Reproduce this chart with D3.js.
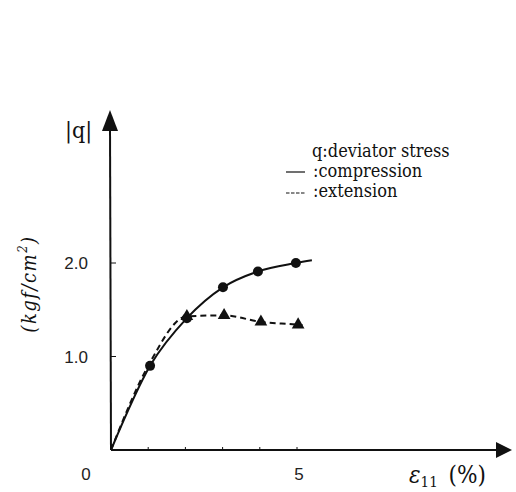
<!DOCTYPE html>
<html><head><meta charset="utf-8">
<script src="https://cdn.jsdelivr.net/npm/d3@7"></script>
<style>body{margin:0;background:#fff}</style>
</head><body>
<svg id="c" width="516" height="492"></svg>
<script>
// Data (strain %, |q| kgf/cm2)
const compStrain = [0, 1.05, 2.04, 3.01, 3.95, 4.97, 5.4];
const compQ      = [0, 0.90, 1.41, 1.74, 1.91, 2.00, 2.03];
const compMarkerIdx = [1, 2, 3, 4, 5];
const extStrain = [0, 1.0, 2.04, 3.04, 4.03, 5.03, 5.15];
const extQ      = [0, 0.90, 1.43, 1.44, 1.37, 1.34, 1.335];
const extMarkerIdx = [2, 3, 4, 5];
const xTicks = [1, 2, 3, 4, 5];
const xTickLabels = [{v: 0, t: "0"}, {v: 5, t: "5"}];
const yTicks = [1.0, 2.0];
const yTickLabels = ["1.0", "2.0"];

const svg = d3.select("#c");
const x = d3.scaleLinear().domain([0, 5]).range([111, 297]);
const y = d3.scaleLinear().domain([0, 2]).range([450, 263]);
const ink = "#111";

// axes
const x0 = x(0), y0 = y(0);
svg.append("line").attr("x1", x0).attr("y1", y0).attr("x2", 500).attr("y2", y0)
  .attr("stroke", ink).attr("stroke-width", 2);
svg.append("path").attr("d", `M512,${y0} L496,${y0-8} L496,${y0+8} Z`).attr("fill", ink);
svg.append("line").attr("x1", x0).attr("y1", y0).attr("x2", x0-1).attr("y2", 125)
  .attr("stroke", ink).attr("stroke-width", 2);
svg.append("path").attr("d", `M${x0-1},110 L${x0-9},131 L${x0+7},131 Z`).attr("fill", ink);

// ticks
svg.selectAll(".xt").data(xTicks).join("line")
  .attr("x1", d => x(d)).attr("x2", d => x(d)).attr("y1", y0).attr("y2", y0 - 3)
  .attr("stroke", ink).attr("stroke-width", 1);
svg.selectAll(".yt").data(yTicks).join("line")
  .attr("x1", x0).attr("x2", x0 + 5).attr("y1", d => y(d)).attr("y2", d => y(d))
  .attr("stroke", ink).attr("stroke-width", 1);

const sans = '"Liberation Sans", Arial, sans-serif';
const serif = '"DejaVu Serif Condensed", "Liberation Serif", serif';
svg.selectAll(".xl").data(xTickLabels).join("text")
  .attr("x", d => d.v === 0 ? 86 : x(d.v) + 2).attr("y", 480)
  .attr("text-anchor", "middle").style("font-family", sans).style("font-size", "17px")
  .attr("fill", "#222").text(d => d.t);
svg.selectAll(".yl").data(yTicks).join("text")
  .attr("x", 88).attr("y", d => y(d) + 6)
  .attr("text-anchor", "end").style("font-family", sans).style("font-size", "17px")
  .attr("fill", "#222").text((d, i) => yTickLabels[i]);

// axis titles
svg.append("text").attr("x", 65).attr("y", 138).style("font-family", serif)
  .style("font-size", "23px").attr("fill", ink).text("|q|");
const yl = svg.append("text").attr("transform", "translate(36,284) rotate(-90)")
  .attr("text-anchor", "middle").style("font-family", serif).style("font-style", "italic")
  .style("font-size", "20px").style("letter-spacing", "1.5px").attr("fill", ink);
yl.append("tspan").text("(kgf/cm");
yl.append("tspan").style("font-size", "13px").attr("dy", -9).text("2");
yl.append("tspan").attr("dy", 9).text(")");
const xl = svg.append("text").attr("x", 409).attr("y", 483).style("font-family", serif)
  .style("font-size", "24px").attr("fill", ink);
xl.append("tspan").style("font-style", "italic").text("ε");
xl.append("tspan").style("font-size", "15px").attr("dy", 4).text("11");
xl.append("tspan").attr("dy", -4).attr("dx", 4).text(" (%)");

// curves
const line = d3.line().x(d => x(d[0])).y(d => y(d[1])).curve(d3.curveMonotoneX);
const comp = compStrain.map((s, i) => [s, compQ[i]]);
const ext = extStrain.map((s, i) => [s, extQ[i]]);
svg.append("path").attr("d", line(ext)).attr("fill", "none").attr("stroke", ink)
  .attr("stroke-width", 2).attr("stroke-dasharray", "6,4");
svg.append("path").attr("d", line(comp)).attr("fill", "none").attr("stroke", ink)
  .attr("stroke-width", 2);

svg.selectAll(".cm").data(compMarkerIdx.map(i => comp[i])).join("circle")
  .attr("cx", d => x(d[0])).attr("cy", d => y(d[1])).attr("r", 5).attr("fill", ink);
const tri = d3.symbol().type(d3.symbolTriangle).size(70);
svg.selectAll(".tm").data(extMarkerIdx.map(i => ext[i])).join("path")
  .attr("transform", d => `translate(${x(d[0])},${y(d[1])})`).attr("d", tri()).attr("fill", ink);

// legend
function lt(xp, yp, s) {
  svg.append("text").attr("x", xp).attr("y", yp).text(s)
    .style("font-family", serif).style("font-size", "18px").attr("fill", ink);
}
lt(312, 157, "q:deviator stress");
svg.append("line").attr("x1", 286).attr("x2", 305).attr("y1", 172).attr("y2", 172)
  .attr("stroke", ink).attr("stroke-width", 1.2);
lt(313, 177, ":compression");
svg.append("line").attr("x1", 286).attr("x2", 305).attr("y1", 193).attr("y2", 193)
  .attr("stroke", ink).attr("stroke-width", 1.2).attr("stroke-dasharray", "3.5,1.5");
lt(313, 197, ":extension");
</script>
</body></html>
